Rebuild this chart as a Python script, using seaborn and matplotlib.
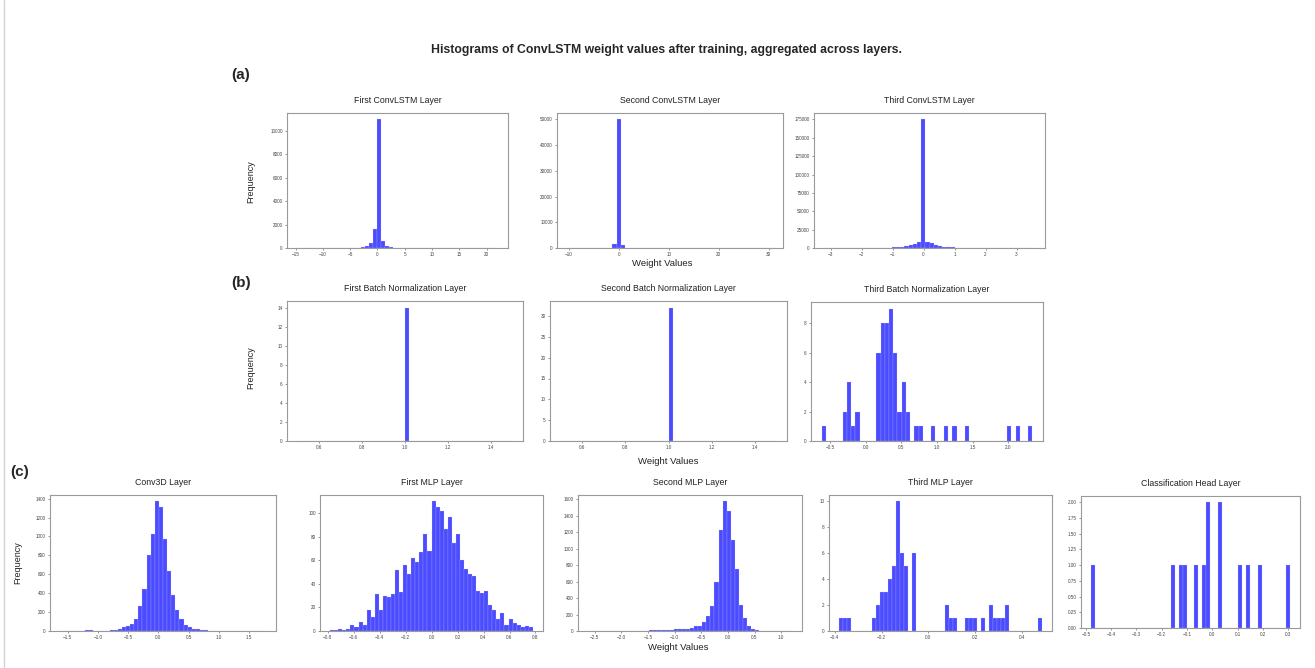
import numpy as np
import seaborn as sns
import matplotlib.pyplot as plt
from matplotlib.ticker import MultipleLocator
from matplotlib.lines import Line2D

sns.set_style("white")
plt.rcParams['font.family'] = ['Liberation Sans', 'DejaVu Sans']

# bin counts (50 bins each), with the binned value range
conv1_range = (-14.72, 22.08)
conv1_counts = [0, 0, 0, 0, 0, 0, 0, 0, 0, 0,
                0, 0, 5, 10, 20, 40, 60, 140, 430, 1650,
                11000, 620, 200, 80, 30, 15, 8, 4, 0, 0,
                0, 0, 0, 0, 0, 0, 0, 0, 0, 0,
                0, 0, 0, 0, 0, 0, 0, 0, 0, 0]

conv2_range = (-10.3, 30.8)
conv2_counts = [0, 0, 0, 0, 0, 0, 0, 0, 10, 30,
                120, 1500, 50000, 1200, 100, 20, 5, 0, 0, 0,
                0, 0, 0, 0, 0, 0, 0, 0, 0, 0,
                0, 0, 0, 0, 0, 0, 0, 0, 0, 0,
                0, 0, 0, 0, 0, 0, 0, 0, 0, 0]

conv3_range = (-3.2, 3.58)
conv3_counts = [0, 0, 0, 0, 0, 0, 0, 0, 0, 0,
                0, 0, 10, 40, 150, 400, 700, 1100, 1800, 2800,
                4000, 5500, 7500, 175000, 8500, 6500, 4500, 3000, 2000, 1300,
                800, 500, 250, 120, 40, 10, 0, 0, 0, 0,
                0, 0, 0, 0, 0, 0, 0, 0, 0, 0]

bn1_range = (0.5, 1.5)
bn1_counts = [0, 0, 0, 0, 0, 0, 0, 0, 0, 0,
              0, 0, 0, 0, 0, 0, 0, 0, 0, 0,
              0, 0, 0, 0, 0, 14, 0, 0, 0, 0,
              0, 0, 0, 0, 0, 0, 0, 0, 0, 0,
              0, 0, 0, 0, 0, 0, 0, 0, 0, 0]

bn2_range = (0.5, 1.5)
bn2_counts = [0, 0, 0, 0, 0, 0, 0, 0, 0, 0,
              0, 0, 0, 0, 0, 0, 0, 0, 0, 0,
              0, 0, 0, 0, 0, 32, 0, 0, 0, 0,
              0, 0, 0, 0, 0, 0, 0, 0, 0, 0,
              0, 0, 0, 0, 0, 0, 0, 0, 0, 0]

bn3_range = (-0.623, 2.343)
bn3_counts = [1, 0, 0, 0, 0, 2, 4, 1, 2, 0,
              0, 0, 0, 6, 8, 8, 9, 6, 2, 4,
              2, 0, 1, 1, 0, 0, 1, 0, 0, 1,
              0, 1, 0, 0, 1, 0, 0, 0, 0, 0,
              0, 0, 0, 0, 1, 0, 1, 0, 0, 1]

conv3d_range = (-1.62, 1.77)
conv3d_counts = [3, 5, 3, 2, 3, 5, 8, 7, 5, 4,
                 3, 5, 8, 12, 20, 40, 50, 75, 130, 260,
                 440, 800, 1030, 1370, 1310, 970, 630, 380, 220, 130,
                 60, 45, 20, 20, 15, 8, 5, 4, 3, 3,
                 2, 3, 2, 2, 3, 2, 2, 1, 2, 1]

mlp1_range = (-0.782, 0.78)
mlp1_counts = [1, 1, 2, 1, 2, 5, 3, 8, 5, 18,
               12, 31, 18, 30, 29, 31, 52, 33, 56, 48,
               62, 59, 67, 82, 68, 110, 105, 102, 87, 97,
               75, 82, 60, 53, 48, 47, 34, 32, 34, 22,
               18, 10, 15, 5, 10, 7, 5, 3, 4, 3]

mlp2_range = (-2.62, 1.20)
mlp2_counts = [2, 1, 2, 1, 0, 1, 2, 1, 2, 3,
               3, 4, 3, 5, 6, 8, 10, 8, 12, 15,
               12, 20, 25, 25, 30, 35, 60, 66, 115, 180,
               300, 600, 1220, 1570, 1450, 1100, 750, 310, 160, 55,
               25, 8, 4, 3, 2, 2, 1, 1, 1, 1]

mlp3_range = (-0.381, 0.485)
mlp3_counts = [1, 1, 1, 0, 0, 0, 0, 0, 1, 2,
               3, 3, 4, 5, 10, 6, 5, 0, 6, 0,
               0, 0, 0, 0, 0, 0, 2, 1, 1, 0,
               0, 1, 1, 1, 0, 1, 0, 2, 1, 1,
               1, 2, 0, 0, 0, 0, 0, 0, 0, 1]

head_range = (-0.480, 0.307)
head_counts = [1, 0, 0, 0, 0, 0, 0, 0, 0, 0,
               0, 0, 0, 0, 0, 0, 0, 0, 0, 0,
               1, 0, 1, 1, 0, 0, 1, 0, 1, 2,
               0, 0, 2, 0, 0, 0, 0, 1, 0, 1,
               0, 0, 1, 0, 0, 0, 0, 0, 0, 1]

W, H = 1315, 668
fig = plt.figure(figsize=(W / 100, H / 100), dpi=100)


def px_axes(left, top, right, bottom):
    return fig.add_axes([left / W, 1 - bottom / H, (right - left) / W, (bottom - top) / H])


def hist_panel(ax, rng, counts, title, xstep, ystep):
    counts = np.asarray(counts, dtype=float)
    edges = np.linspace(rng[0], rng[1], len(counts) + 1)
    centers = (edges[:-1] + edges[1:]) / 2
    keep = counts > 0
    sns.histplot(x=centers[keep], weights=counts[keep], bins=len(counts), binrange=rng,
                 ax=ax, color='blue', alpha=0.7, edgecolor='#c8c8ff', linewidth=0.15)
    pad = 0.05 * (rng[1] - rng[0])
    ax.set_xlim(rng[0] - pad, rng[1] + pad)
    ax.set_ylim(0, counts.max() * 1.05)
    ax.xaxis.set_major_locator(MultipleLocator(xstep))
    ax.yaxis.set_major_locator(MultipleLocator(ystep))
    ax.set_xlabel('')
    ax.set_ylabel('')
    ax.set_title(title, fontsize=6.3, pad=7, color='#222222')
    ax.tick_params(labelsize=3.3, length=1.5, width=0.4, pad=1.5,
                   colors='#444444', left=True, bottom=True)
    for s in ax.spines.values():
        s.set_color('#9a9a9a')
        s.set_linewidth(0.8)


panels = [
    ((287, 113, 508, 248), conv1_range, conv1_counts, 'First ConvLSTM Layer', 5, 2000),
    ((557, 113, 783, 248), conv2_range, conv2_counts, 'Second ConvLSTM Layer', 10, 10000),
    ((814, 113, 1045, 248), conv3_range, conv3_counts, 'Third ConvLSTM Layer', 1, 25000),
    ((287, 301, 523, 441), bn1_range, bn1_counts, 'First Batch Normalization Layer', 0.2, 2),
    ((550, 301, 787, 441), bn2_range, bn2_counts, 'Second Batch Normalization Layer', 0.2, 5),
    ((811, 302, 1043, 441), bn3_range, bn3_counts, 'Third Batch Normalization Layer', 0.5, 2),
    ((50, 495, 276, 631), conv3d_range, conv3d_counts, 'Conv3D Layer', 0.5, 200),
    ((320, 495, 543, 631), mlp1_range, mlp1_counts, 'First MLP Layer', 0.2, 20),
    ((578, 495, 802, 631), mlp2_range, mlp2_counts, 'Second MLP Layer', 0.5, 200),
    ((829, 495, 1052, 631), mlp3_range, mlp3_counts, 'Third MLP Layer', 0.2, 2),
    ((1081, 496, 1300, 628), head_range, head_counts, 'Classification Head Layer', 0.1, 0.25),
]

for box, rng, counts, title, xs, ys in panels:
    hist_panel(px_axes(*box), rng, counts, title, xs, ys)

bold = dict(fontweight='bold', family=['Liberation Sans', 'DejaVu Sans'])
fig.text(666 / W, 1 - 50 / H,
         'Histograms of ConvLSTM weight values after training, aggregated across layers.',
         ha='center', va='center', fontsize=8.8, **bold)
for lab, x, y in [('(a)', 231, 75), ('(b)', 231, 283), ('(c)', 10, 472)]:
    fig.text(x / W, 1 - y / H, lab, ha='left', va='center', fontsize=11, **bold)

for x, y in [(251, 182), (251, 368), (18, 563)]:
    fig.text(x / W, 1 - y / H, 'Frequency', rotation=90, ha='center', va='center',
             fontsize=6.5, color='#222222')
for x, y in [(662, 263), (668, 462), (678, 648)]:
    fig.text(x / W, 1 - y / H, 'Weight Values', ha='center', va='center',
             fontsize=6.8, color='#222222')

fig.add_artist(Line2D([4 / W, 4 / W], [0, 1], color='#d4d4d4', linewidth=1))

fig.savefig('out.png', dpi=100)
